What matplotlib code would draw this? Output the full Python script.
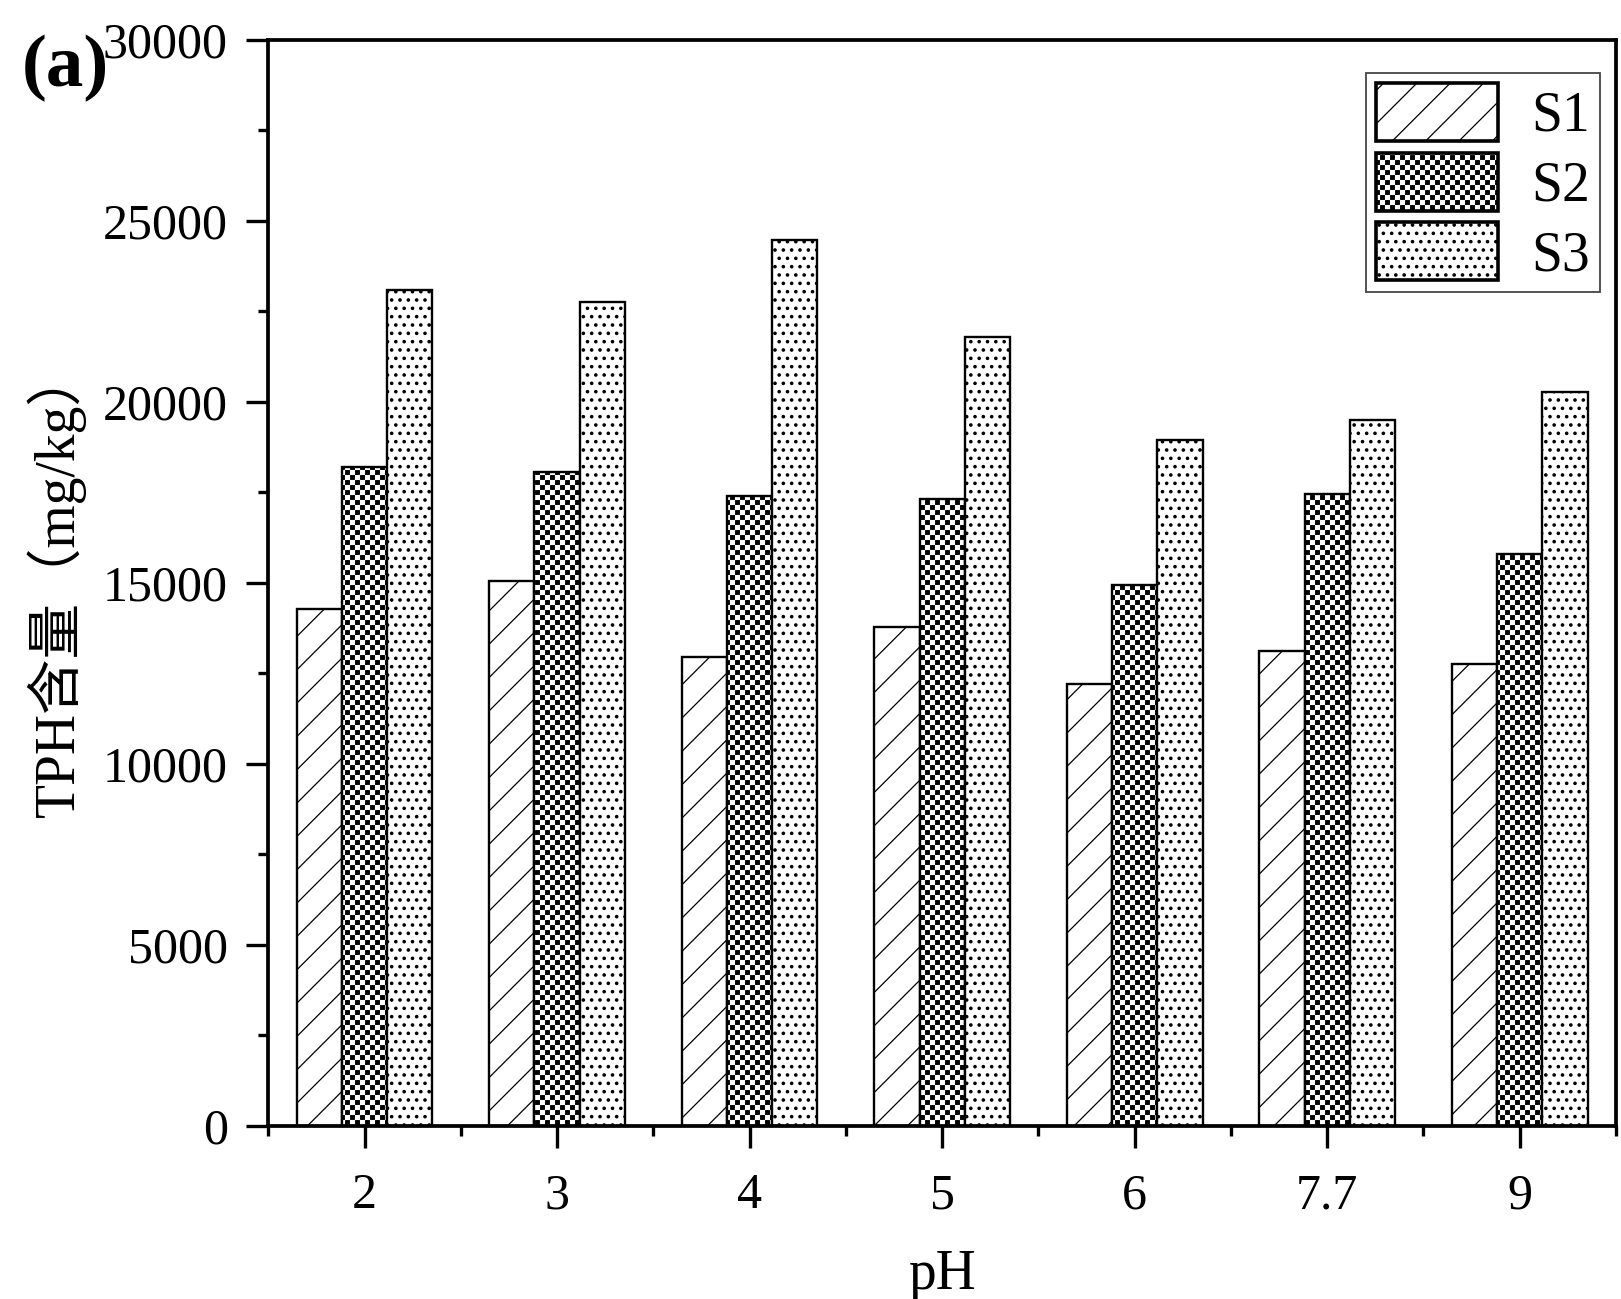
import warnings
import numpy as np
import matplotlib
matplotlib.use("Agg")
import matplotlib.pyplot as plt
import matplotlib.hatch as mhatch
from matplotlib.path import Path
from matplotlib.ticker import MultipleLocator, FixedLocator

warnings.filterwarnings("ignore")

# TPH content (mg/kg)
ph_labels = ['2', '3', '4', '5', '6', '7.7', '9']
series_names = ['S1', 'S2', 'S3']
s1 = [14290, 15050, 12950, 13790, 12210, 13110, 12750]
s2 = [18200, 18050, 17390, 17310, 14940, 17450, 15790]
s3 = [23090, 22760, 24470, 21790, 18940, 19510, 20280]


# checkerboard hatch ('c'), matplotlib has none built in
class CheckerHatch(mhatch.HatchPatternBase):
    filled = True

    def __init__(self, hatch, density):
        self.n = 20 * hatch.count('c')
        self.num_vertices = 5 * (self.n * self.n // 2)

    def set_vertices_and_codes(self, vertices, codes):
        step = 1.0 / self.n
        side = step * 0.72
        off = (step - side) / 2
        k = 0
        for i in range(self.n):
            for j in range(self.n):
                if (i + j) % 2:
                    continue
                x0 = i * step + off
                y0 = j * step + off
                vertices[k:k + 5] = [[x0, y0], [x0 + side, y0], [x0 + side, y0 + side],
                                     [x0, y0 + side], [x0, y0]]
                codes[k:k + 5] = [Path.MOVETO, Path.LINETO, Path.LINETO,
                                  Path.LINETO, Path.CLOSEPOLY]
                k += 5


# slightly bigger filled dots ('d')
class BigDots(mhatch.Circles):
    size = 0.14
    filled = True

    def __init__(self, hatch, density):
        self.num_rows = hatch.count('d') * density
        super().__init__(hatch, density)


mhatch._hatch_types.append(CheckerHatch)
mhatch._hatch_types.append(BigDots)

plt.rcParams['font.family'] = ['Liberation Serif', 'Noto Sans CJK SC']
plt.rcParams['hatch.linewidth'] = 0.9
plt.rcParams['hatch.color'] = 'black'

fig = plt.figure(figsize=(16.21, 12.99), dpi=100)
ax = fig.add_axes([0.1655, 0.1334, 0.8314, 0.8358])

x = np.arange(len(ph_labels))
w = 0.235
hatches = ['/', 'c', 'dd']
for k, (vals, name) in enumerate(zip([s1, s2, s3], series_names)):
    ax.bar(x + (k - 1) * w, vals, w, label=name, facecolor='white',
           edgecolor='black', linewidth=1.7, hatch=hatches[k])

ax.set_xlim(-0.5, 6.5)
ax.set_ylim(0, 30000)
ax.set_xticks(x)
ax.set_xticklabels(ph_labels)
ax.xaxis.set_minor_locator(FixedLocator(np.arange(-0.5, 7, 1.0)))
ax.yaxis.set_major_locator(MultipleLocator(5000))
ax.yaxis.set_minor_locator(MultipleLocator(2500))

for sp in ax.spines.values():
    sp.set_linewidth(2.7)
ax.tick_params(which='major', direction='out', length=16, width=2.4, labelsize=36)
ax.tick_params(which='minor', direction='out', length=7.5, width=2.4)
ax.tick_params(axis='y', which='major', pad=13)
ax.tick_params(axis='x', which='major', pad=18)

ax.set_ylabel('TPH含量（mg/kg）', fontsize=40, va='center')
ax.yaxis.set_label_coords(-0.1575, 0.5)
ax.set_xlabel('pH', fontsize=40, va='center')
ax.xaxis.set_label_coords(0.5, -0.1375)

leg = ax.legend(loc='upper right', bbox_to_anchor=(0.9881, 0.9696), borderaxespad=0,
                fontsize=40, handlelength=2.2, handleheight=1.23, handletextpad=0.6,
                labelspacing=0.18, borderpad=0.18, fancybox=False, framealpha=1)
leg.get_frame().set_edgecolor('#444444')
leg.get_frame().set_linewidth(1.3)
for h in leg.legend_handles:
    h.set_linewidth(2.6)

fig.text(0.0136, 0.9477, '(a)', fontsize=54, fontweight='bold', ha='left', va='center')

fig.savefig('out.png', dpi=100)
